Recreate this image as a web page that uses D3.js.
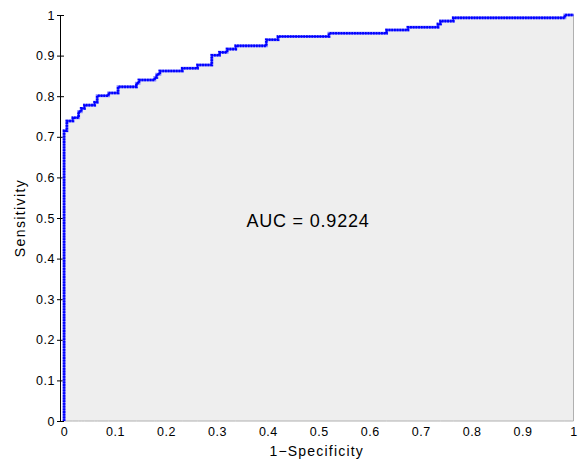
<!DOCTYPE html>
<html>
<head>
<meta charset="utf-8">
<script src="https://cdn.jsdelivr.net/npm/d3@7"></script>
<style>
  body { margin: 0; background: #fff; }
  svg text { font-family: "Liberation Sans", Arial, sans-serif; fill: #000; }
</style>
</head>
<body>
<svg id="chart" width="579" height="459"></svg>
<script>
// ROC corner points (false positive rate, true positive rate)
var fpr = [0, 0, 0.0055, 0.0173, 0.0285, 0.0337, 0.040, 0.060, 0.065, 0.0874, 0.106, 0.142, 0.147,
           0.178, 0.182, 0.188, 0.232, 0.262, 0.290, 0.305, 0.320, 0.337, 0.397, 0.420, 0.520,
           0.633, 0.675, 0.734, 0.739, 0.764, 0.983, 1];
var tpr = [0, 0.715, 0.739, 0.747, 0.762, 0.770, 0.778, 0.785, 0.801, 0.808, 0.823, 0.832, 0.840,
           0.846, 0.854, 0.862, 0.869, 0.877, 0.901, 0.908, 0.916, 0.924, 0.939, 0.947, 0.955,
           0.963, 0.970, 0.978, 0.985, 0.993, 1.0, 1];
var aucText = "AUC = 0.9224";

var xTicks = [0, 0.1, 0.2, 0.3, 0.4, 0.5, 0.6, 0.7, 0.8, 0.9, 1];
var xTickLabels = ["0", "0.1", "0.2", "0.3", "0.4", "0.5", "0.6", "0.7", "0.8", "0.9", "1"];
var yTicks = [0, 0.1, 0.2, 0.3, 0.4, 0.5, 0.6, 0.7, 0.8, 0.9, 1];
var yTickLabels = ["0", "0.1", "0.2", "0.3", "0.4", "0.5", "0.6", "0.7", "0.8", "0.9", "1"];

var svg = d3.select("#chart");

// plot box
const boxLeft = 60, boxRight = 573.5, boxTop = 15, boxBottom = 421;

const x = d3.scaleLinear().domain([-0.008, 1]).range([boxLeft, boxRight]);
const y = d3.scaleLinear().domain([0, 1]).range([boxBottom, boxTop]);

var points = fpr.map(function (d, i) { return [d, tpr[i]]; });

// shaded area under the curve
var area = d3.area()
  .curve(d3.curveStepAfter)
  .x(function (d) { return x(d[0]); })
  .y0(y(0))
  .y1(function (d) { return y(d[1]); });

svg.append("path")
  .datum(points)
  .attr("d", area)
  .attr("fill", "#eeeeee")
  .attr("stroke", "#b0b0b0")
  .attr("stroke-width", 1);

// y axis
var yAxis = d3.axisLeft(y)
  .tickValues(yTicks)
  .tickFormat(function (d, i) { return yTickLabels[i]; })
  .tickSizeInner(3)
  .tickSizeOuter(0)
  .tickPadding(2);

var gy = svg.append("g")
  .attr("transform", "translate(" + boxLeft + ",0)")
  .call(yAxis);
gy.select(".domain").attr("stroke", "#000");
gy.selectAll(".tick line").attr("stroke", "#000");
gy.selectAll(".tick").append("line")
  .attr("x1", 0).attr("x2", 4)
  .attr("stroke", "#000");
gy.selectAll("text")
  .attr("font-size", "12.5px")
  .attr("letter-spacing", "0.5px")
  .attr("fill", "#000");

// x axis labels only
var xAxis = d3.axisBottom(x)
  .tickValues(xTicks)
  .tickFormat(function (d, i) { return xTickLabels[i]; })
  .tickSize(0)
  .tickPadding(6);

var gx = svg.append("g")
  .attr("transform", "translate(0," + boxBottom + ")")
  .call(xAxis);
gx.select(".domain").remove();
gx.selectAll("text")
  .attr("font-size", "12.5px")
  .attr("letter-spacing", "0.5px")
  .attr("fill", "#000");

// the ROC curve with dot markers
var line = d3.line()
  .curve(d3.curveStepAfter)
  .x(function (d) { return x(d[0]); })
  .y(function (d) { return y(d[1]); });

svg.append("path")
  .datum(points)
  .attr("d", line)
  .attr("fill", "none")
  .attr("stroke", "#8a8aff")
  .attr("stroke-width", 3);

svg.append("path")
  .datum(points)
  .attr("d", line)
  .attr("fill", "none")
  .attr("stroke", "#0000ff")
  .attr("stroke-width", 2.6)
  .attr("stroke-dasharray", "1.8,0.9");

svg.append("path")
  .datum(points)
  .attr("d", line)
  .attr("fill", "none")
  .attr("stroke", "#0000ff")
  .attr("stroke-width", 1);

// labels
svg.append("text")
  .attr("x", 308)
  .attr("y", 227)
  .attr("text-anchor", "middle")
  .attr("font-size", "18px")
  .attr("letter-spacing", "0.8px")
  .text(aucText);

svg.append("text")
  .attr("x", (boxLeft + boxRight) / 2)
  .attr("y", 456)
  .attr("text-anchor", "middle")
  .attr("font-size", "14px")
  .attr("letter-spacing", "1.2px")
  .text("1\u2212Specificity");

svg.append("text")
  .attr("transform", "translate(24.5," + ((boxTop + boxBottom) / 2) + ") rotate(-90)")
  .attr("text-anchor", "middle")
  .attr("font-size", "14px")
  .attr("letter-spacing", "1.4px")
  .text("Sensitivity");
</script>
</body>
</html>
